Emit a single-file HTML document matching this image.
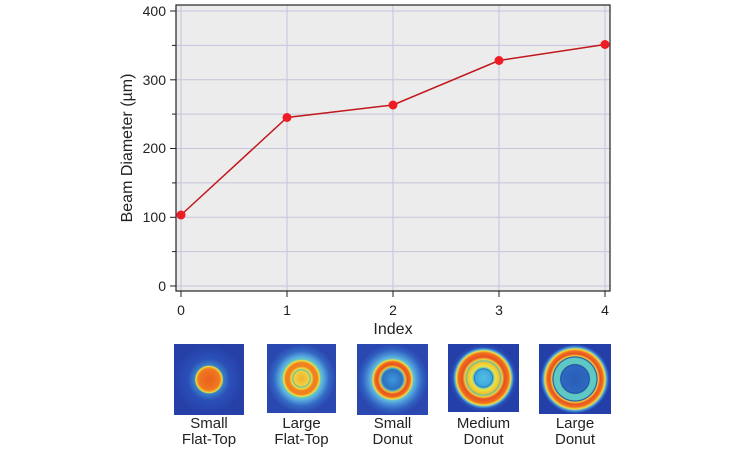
<!DOCTYPE html>
<html><head><meta charset="utf-8"><style>
html,body{margin:0;padding:0;background:#fff;}
svg{display:block;font-family:"Liberation Sans",Arial,sans-serif;}
</style></head><body>
<svg width="733" height="450" viewBox="0 0 733 450">
<defs>
<radialGradient id="g1" cx="50%" cy="50%" r="50%">
<stop offset="0" stop-color="#e8601c"/><stop offset="0.3" stop-color="#f07820"/><stop offset="0.35" stop-color="#f0b030"/><stop offset="0.38" stop-color="#e0e040"/><stop offset="0.41" stop-color="#3a80c8"/><stop offset="0.6" stop-color="#2a50b8"/><stop offset="1" stop-color="#2640a8"/>
</radialGradient>
<radialGradient id="g2" cx="50%" cy="50%" r="50%">
<stop offset="0" stop-color="#f0b030"/><stop offset="0.22" stop-color="#f4d040"/><stop offset="0.25" stop-color="#58c0a8"/><stop offset="0.29" stop-color="#f0e040"/><stop offset="0.36" stop-color="#f08020"/><stop offset="0.46" stop-color="#f08020"/><stop offset="0.52" stop-color="#f0e040"/><stop offset="0.56" stop-color="#60c8c0"/><stop offset="0.62" stop-color="#5ab0e0"/><stop offset="0.8" stop-color="#3468c4"/><stop offset="1" stop-color="#2a48b0"/>
</radialGradient>
<radialGradient id="g3" cx="50%" cy="50%" r="50%">
<stop offset="0" stop-color="#3a98e0"/><stop offset="0.28" stop-color="#2e70c0"/><stop offset="0.32" stop-color="#50b0c0"/><stop offset="0.36" stop-color="#f0c030"/><stop offset="0.42" stop-color="#e85020"/><stop offset="0.5" stop-color="#f07020"/><stop offset="0.55" stop-color="#f0e040"/><stop offset="0.59" stop-color="#60c0d8"/><stop offset="0.7" stop-color="#4a90d8"/><stop offset="0.85" stop-color="#3060c0"/><stop offset="1" stop-color="#2a48b0"/>
</radialGradient>
<radialGradient id="g4" cx="50%" cy="50%" r="50%">
<stop offset="0" stop-color="#50c0e0"/><stop offset="0.24" stop-color="#40a8e0"/><stop offset="0.27" stop-color="#2a70c0"/><stop offset="0.3" stop-color="#70d0b0"/><stop offset="0.35" stop-color="#f0e040"/><stop offset="0.47" stop-color="#f0c030"/><stop offset="0.5" stop-color="#60c0a0"/><stop offset="0.55" stop-color="#f0d040"/><stop offset="0.62" stop-color="#e85020"/><stop offset="0.74" stop-color="#f07020"/><stop offset="0.8" stop-color="#f0e040"/><stop offset="0.84" stop-color="#50b0e0"/><stop offset="0.9" stop-color="#2a50b8"/><stop offset="1" stop-color="#2440a8"/>
</radialGradient>
<radialGradient id="g5" cx="50%" cy="50%" r="50%">
<stop offset="0" stop-color="#2a5cb8"/><stop offset="0.38" stop-color="#2e68c0"/><stop offset="0.41" stop-color="#1a4aa0"/><stop offset="0.44" stop-color="#60c8c0"/><stop offset="0.6" stop-color="#5cc8c8"/><stop offset="0.63" stop-color="#1a4aa0"/><stop offset="0.66" stop-color="#f0d040"/><stop offset="0.72" stop-color="#e85020"/><stop offset="0.8" stop-color="#f07020"/><stop offset="0.86" stop-color="#f0e040"/><stop offset="0.9" stop-color="#50a8e0"/><stop offset="0.96" stop-color="#2a50b8"/><stop offset="1" stop-color="#2440a8"/>
</radialGradient>
</defs>
<rect x="176" y="5" width="434" height="286" fill="#ececec"/>
<g stroke="#c4c4dc" stroke-width="1">
<line x1="176" x2="610" y1="286" y2="286"/><line x1="176" x2="610" y1="251.6" y2="251.6"/>
<line x1="176" x2="610" y1="217.3" y2="217.3"/><line x1="176" x2="610" y1="182.9" y2="182.9"/>
<line x1="176" x2="610" y1="148.5" y2="148.5"/><line x1="176" x2="610" y1="114.1" y2="114.1"/>
<line x1="176" x2="610" y1="79.8" y2="79.8"/><line x1="176" x2="610" y1="45.4" y2="45.4"/>
<line x1="176" x2="610" y1="11" y2="11"/>
<line y1="5" y2="291" x1="181" x2="181"/><line y1="5" y2="291" x1="287" x2="287"/>
<line y1="5" y2="291" x1="393" x2="393"/><line y1="5" y2="291" x1="499" x2="499"/>
<line y1="5" y2="291" x1="605" x2="605"/>
</g>
<rect x="176" y="5" width="434" height="286" fill="none" stroke="#222" stroke-width="1.2"/>
<g stroke="#222" stroke-width="1">
<line x1="170" x2="176" y1="286" y2="286"/><line x1="172" x2="176" y1="251.6" y2="251.6"/>
<line x1="170" x2="176" y1="217.3" y2="217.3"/><line x1="172" x2="176" y1="182.9" y2="182.9"/>
<line x1="170" x2="176" y1="148.5" y2="148.5"/><line x1="172" x2="176" y1="114.1" y2="114.1"/>
<line x1="170" x2="176" y1="79.8" y2="79.8"/><line x1="172" x2="176" y1="45.4" y2="45.4"/>
<line x1="170" x2="176" y1="11" y2="11"/>
<line y1="291" y2="297" x1="181" x2="181"/><line y1="291" y2="297" x1="287" x2="287"/>
<line y1="291" y2="297" x1="393" x2="393"/><line y1="291" y2="297" x1="499" x2="499"/>
<line y1="291" y2="297" x1="605" x2="605"/>
</g>
<g font-size="14" fill="#222" text-anchor="end">
<text x="166" y="291">0</text><text x="166" y="222">100</text><text x="166" y="153">200</text><text x="166" y="85">300</text><text x="166" y="16">400</text>
</g>
<g font-size="14" fill="#222" text-anchor="middle">
<text x="181" y="315">0</text><text x="287" y="315">1</text><text x="393" y="315">2</text><text x="499" y="315">3</text><text x="605" y="315">4</text>
</g>
<text x="393" y="334" font-size="16" text-anchor="middle" fill="#222">Index</text>
<text transform="translate(132,148) rotate(-90)" font-size="16" text-anchor="middle" fill="#222">Beam Diameter (µm)</text>
<polyline points="181,215 287,117.5 393,105 499,60.5 605,44.5" fill="none" stroke="#c0181c" stroke-width="1.5"/>
<g fill="#ee1c24">
<circle cx="181" cy="215" r="4.5"/><circle cx="287" cy="117.5" r="4.5"/><circle cx="393" cy="105" r="4.5"/><circle cx="499" cy="60.5" r="4.5"/><circle cx="605" cy="44.5" r="4.5"/>
</g>
<rect x="174" y="344" width="70" height="71" fill="#2640a8"/>
<circle cx="209" cy="379.5" r="35" fill="url(#g1)"/>
<rect x="267" y="344" width="69" height="69" fill="#2a48b0"/>
<circle cx="301.5" cy="378.5" r="34.5" fill="url(#g2)"/>
<rect x="357" y="344" width="71" height="71" fill="#2a48b0"/>
<circle cx="392.5" cy="379.5" r="35.5" fill="url(#g3)"/>
<rect x="448" y="344" width="71" height="68" fill="#2440a8"/>
<circle cx="483.5" cy="378" r="34" fill="url(#g4)"/>
<rect x="539" y="344" width="72" height="70" fill="#2440a8"/>
<circle cx="575" cy="379" r="35" fill="url(#g5)"/>
<g font-size="15" fill="#222" text-anchor="middle">
<text x="209" y="428">Small</text><text x="209" y="444">Flat-Top</text>
<text x="301.5" y="428">Large</text><text x="301.5" y="444">Flat-Top</text>
<text x="392.5" y="428">Small</text><text x="392.5" y="444">Donut</text>
<text x="483.5" y="428">Medium</text><text x="483.5" y="444">Donut</text>
<text x="575" y="428">Large</text><text x="575" y="444">Donut</text>
</g>
</svg>
</body></html>
